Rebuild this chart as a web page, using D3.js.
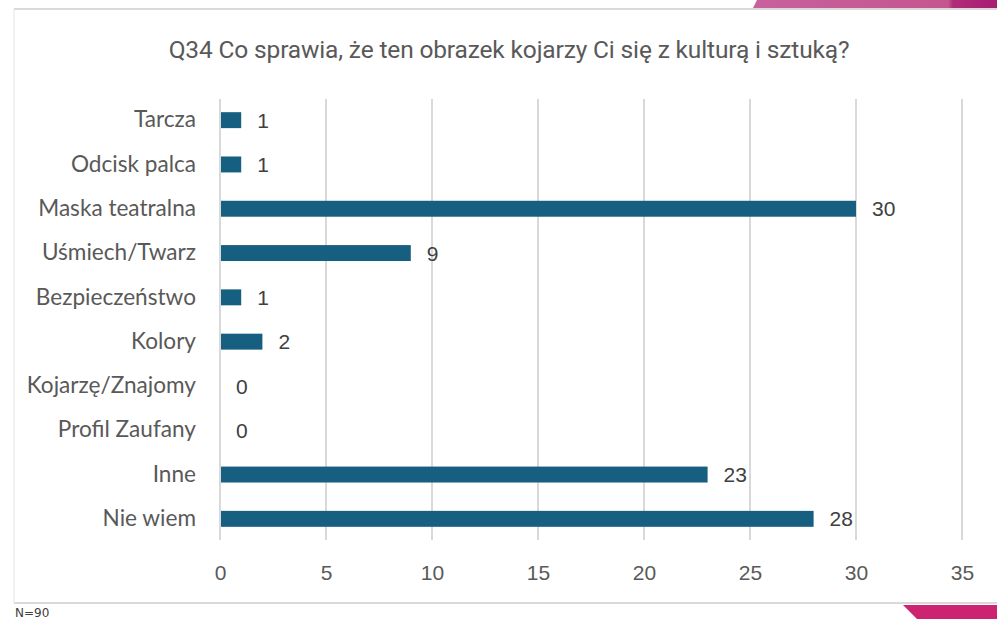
<!DOCTYPE html>
<html>
<head>
<meta charset="utf-8">
<script src="https://cdn.jsdelivr.net/npm/d3@7"></script>
<style>
  body { margin: 0; background: #fff; }
</style>
</head>
<body>
<script>
var categories = ["Tarcza", "Odcisk palca", "Maska teatralna", "Uśmiech/Twarz", "Bezpieczeństwo",
                  "Kolory", "Kojarzę/Znajomy", "Profil Zaufany", "Inne", "Nie wiem"];
var values = [1, 1, 30, 9, 1, 2, 0, 0, 23, 28];
var ticks = [0, 5, 10, 15, 20, 25, 30, 35];
var title = "Q34 Co sprawia, że ten obrazek kojarzy Ci się z kulturą i sztuką?";
var note = "N=90";

var w = 997;
var h = 619;

var svg = d3.select("body")
            .append("svg")
            .attr("width", w)
            .attr("height", h);

// decorative bands
var grad = svg.append("defs").append("linearGradient").attr("id", "pink");
grad.append("stop").attr("offset", "0%").attr("stop-color", "#c8619c");
grad.append("stop").attr("offset", "80%").attr("stop-color", "#c4558f");
grad.append("stop").attr("offset", "82%").attr("stop-color", "#b02a7a");
grad.append("stop").attr("offset", "100%").attr("stop-color", "#a81c72");
svg.append("path").attr("d", "M757,0 L997,0 L997,8 L753,8 Z").attr("fill", "url(#pink)");
svg.append("path").attr("d", "M903,605 L997,605 L997,619 L917,619 Z").attr("fill", "#cc2470");

// frame
svg.append("line").attr("x1", 14).attr("x2", w).attr("y1", 9).attr("y2", 9)
   .attr("stroke", "#d9d9d9").attr("stroke-width", 2);
svg.append("line").attr("x1", 14).attr("x2", w).attr("y1", 603).attr("y2", 603)
   .attr("stroke", "#d9d9d9").attr("stroke-width", 2);
svg.append("line").attr("x1", 14).attr("x2", 14).attr("y1", 9).attr("y2", 603)
   .attr("stroke", "#e3e3e3").attr("stroke-width", 1);

var xScale = d3.scaleLinear()
               .domain([0, 35])
               .range([220, 962]);

var yScale = d3.scaleBand()
               .domain(categories)
               .range([98, 541])
               .paddingInner(0.64)
               .paddingOuter(0.32);

// gridlines
svg.append("g")
   .selectAll("line")
   .data(ticks)
   .enter()
   .append("line")
   .attr("x1", function(d) { return xScale(d); })
   .attr("x2", function(d) { return xScale(d); })
   .attr("y1", 99)
   .attr("y2", 540)
   .attr("stroke", "#d9d9d9")
   .attr("stroke-width", 2);

// x axis labels
var x_axis = d3.axisBottom(xScale).tickValues(ticks).tickSize(0).tickPadding(0);
var gx = svg.append("g")
   .attr("transform", "translate(0,565)")
   .call(x_axis);
gx.select(".domain").remove();
gx.selectAll("text")
  .attr("fill", "#595959")
  .attr("dy", "0.71em")
  .style("font-size", "21px")
  .style("font-family", "Liberation Sans, Arial, sans-serif");

// category labels
var y_axis = d3.axisLeft(yScale).tickSize(0).tickPadding(0);
var gy = svg.append("g")
   .attr("transform", "translate(196,0)")
   .call(y_axis);
gy.select(".domain").remove();
gy.selectAll("text")
  .attr("fill", "#595959")
  .style("font-size", "22.6px")
  .style("font-family", "Lato, 'Open Sans', sans-serif");

// bars
svg.selectAll("rect.bar")
   .data(values)
   .enter()
   .append("rect")
   .attr("class", "bar")
   .attr("x", xScale(0) + 1)
   .attr("y", function(d, i) { return yScale(categories[i]); })
   .attr("width", function(d) { return Math.max(0, xScale(d) - xScale(0) - 1); })
   .attr("height", yScale.bandwidth())
   .attr("fill", "#175f80");

// value labels
svg.selectAll("text.val")
   .data(values)
   .enter()
   .append("text")
   .attr("class", "val")
   .attr("x", function(d) { return xScale(d) + 16; })
   .attr("y", function(d, i) { return yScale(categories[i]) + yScale.bandwidth() / 2; })
   .attr("dy", "0.36em")
   .attr("fill", "#404040")
   .style("font-size", "21px")
   .style("font-family", "Liberation Sans, Arial, sans-serif")
   .text(function(d) { return d; });

// title
svg.append("text")
   .attr("x", 509)
   .attr("y", 58)
   .attr("text-anchor", "middle")
   .attr("fill", "#595959")
   .style("font-size", "24.5px")
   .style("font-family", "Roboto, sans-serif")
   .style("letter-spacing", "-0.15px")
   .text(title);

svg.append("text")
   .attr("x", 15)
   .attr("y", 617)
   .attr("fill", "#404040")
   .style("font-size", "12px")
   .style("font-family", "'DejaVu Sans', sans-serif")
   .text(note);
</script>
</body>
</html>
